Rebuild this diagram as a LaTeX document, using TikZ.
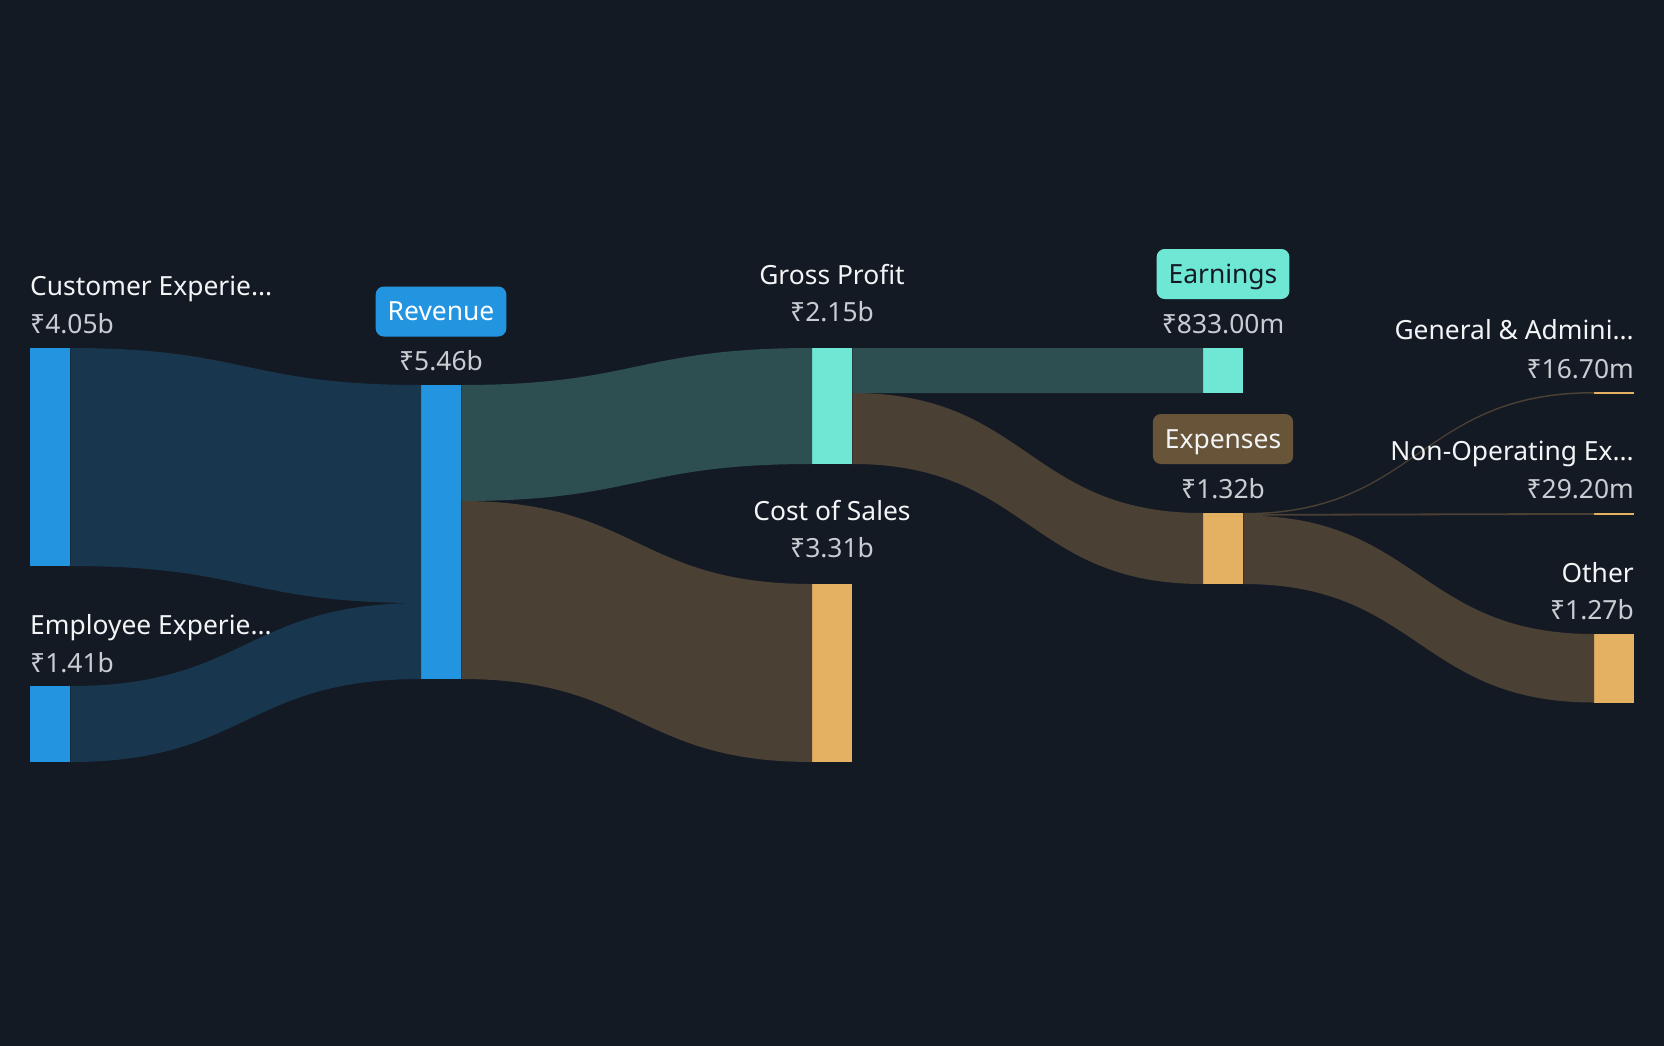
\documentclass[tikz,border=0pt]{standalone}
\usepackage{fontspec}
\setmainfont{Noto Sans}
\usetikzlibrary{calc}

\definecolor{bgnavy}{HTML}{141A24}
\definecolor{revblue}{HTML}{2394DF}
\definecolor{revlink}{HTML}{18374F}
\definecolor{profteal}{HTML}{6EE8D4}
\definecolor{proflink}{HTML}{2D4F51}
\definecolor{costorange}{HTML}{E4B062}
\definecolor{costlink}{HTML}{4A4034}
\definecolor{expbrown}{HTML}{675439}
\definecolor{labelwhite}{HTML}{F2F4F5}
\definecolor{valuegrey}{HTML}{C9CDD2}

% band between two bars: source, offset, target, offset, thickness, colour
\newcommand\sankeyflow[6]{%
  \fill[#6] let \p1=([yshift=-#2pt]#1.north east), \p2=([yshift=-#4pt]#3.north west),
    \p3=([yshift=-#2pt-#5pt]#1.north east), \p4=([yshift=-#4pt-#5pt]#3.north west),
    \p5=($(\p1)!0.5!(\p2)$) in
    (\p1) .. controls (\x5,\y1) and (\x5,\y2) .. (\p2) -- (\p4)
    .. controls (\x5,\y4) and (\x5,\y3) .. (\p3) -- cycle;}

\begin{document}
\begin{tikzpicture}[x=1pt,y=-1pt,
  bar/.style={rectangle, inner sep=0pt, minimum width=40pt, anchor=north west},
  lbl/.style={text=labelwhite, font=\fontsize{26.4}{30}\selectfont, inner sep=0pt},
  val/.style={lbl, text=valuegrey},
  badge/.style={lbl, rounded corners=8pt, minimum height=50pt, inner xsep=12pt, text height=18.8pt, text depth=0pt}]
\fill[bgnavy] (0,0) rectangle (1664,1046);
\useasboundingbox (0,0) rectangle (1664,1046);

% bars
\node[bar, fill=revblue, minimum height=218pt] (cust) at (30,348) {};
\node[bar, fill=revblue, minimum height=76pt] (emp) at (30,686) {};
\node[bar, fill=revblue, minimum height=294pt] (rev) at (421,385) {};
\node[bar, fill=profteal, minimum height=116pt] (gp) at (812,348) {};
\node[bar, fill=costorange, minimum height=178pt] (cos) at (812,584) {};
\node[bar, fill=profteal, minimum height=45pt] (earn) at (1203,348) {};
\node[bar, fill=costorange, minimum height=71pt] (exp) at (1203,513) {};
\node[bar, fill=costorange, minimum height=1.6pt] (ga) at (1594,392) {};
\node[bar, fill=costorange, minimum height=2pt] (nonop) at (1594,513) {};
\node[bar, fill=costorange, minimum height=68.5pt] (other) at (1594,634) {};

% flows
\sankeyflow{cust}{0}{rev}{0}{218}{revlink}
\sankeyflow{emp}{0}{rev}{218}{76}{revlink}
\sankeyflow{rev}{0}{gp}{0}{116}{proflink}
\sankeyflow{rev}{116}{cos}{0}{178}{costlink}
\sankeyflow{gp}{0}{earn}{0}{45}{proflink}
\sankeyflow{gp}{45}{exp}{0}{71}{costlink}
\sankeyflow{exp}{0}{ga}{0}{1.5}{costlink}
\sankeyflow{exp}{1}{nonop}{0}{1.8}{costlink}
\sankeyflow{exp}{2.5}{other}{0}{68.5}{costlink}

% labels
\node[lbl, anchor=base west] (cust-name) at (30,295) {Customer Experie...};
\node[val, anchor=base west] (cust-val) at (30,333) {₹4.05b};
\node[lbl, anchor=base west] (emp-name) at (30,634) {Employee Experie...};
\node[val, anchor=base west] (emp-val) at (30,672) {₹1.41b};
\node[badge, fill=revblue, text=white] (rev-name) at (441,311.5) {Revenue};
\node[val, anchor=base] (rev-val) at (441,370) {₹5.46b};
\node[lbl, anchor=base] (gp-name) at (832,284) {Gross Profit};
\node[val, anchor=base] (gp-val) at (832,321) {₹2.15b};
\node[lbl, anchor=base] (cos-name) at (832,520) {Cost of Sales};
\node[val, anchor=base] (cos-val) at (832,557.5) {₹3.31b};
\node[badge, fill=profteal, text=bgnavy] (earn-name) at (1223,274) {Earnings};
\node[val, anchor=base] (earn-val) at (1223,333) {₹833.00m};
\node[badge, fill=expbrown] (exp-name) at (1223,439) {Expenses};
\node[val, anchor=base] (exp-val) at (1223,498) {₹1.32b};
\node[lbl, anchor=base east] (ga-name) at (1634,339) {General \& Admini...};
\node[val, anchor=base east] (ga-val) at (1634,378) {₹16.70m};
\node[lbl, anchor=base east] (nonop-name) at (1634,460) {Non-Operating Ex...};
\node[val, anchor=base east] (nonop-val) at (1634,498) {₹29.20m};
\node[lbl, anchor=base east] (other-name) at (1634,582) {Other};
\node[val, anchor=base east] (other-val) at (1634,619) {₹1.27b};

\end{tikzpicture}
\end{document}
